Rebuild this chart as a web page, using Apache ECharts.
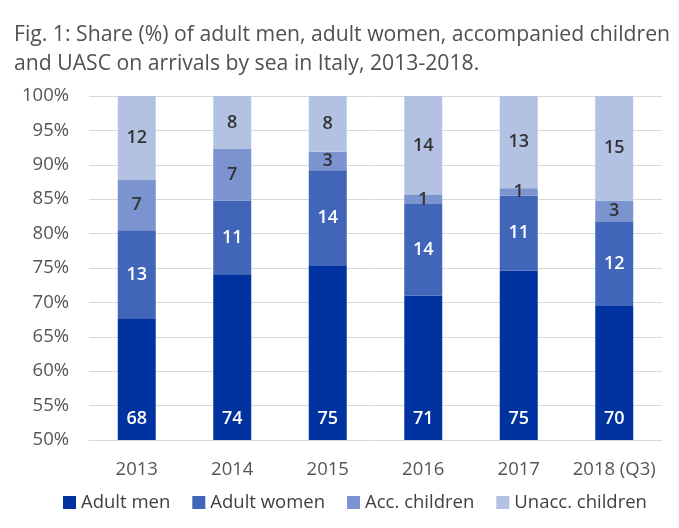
<!DOCTYPE html>
<html>
<head>
<meta charset="utf-8">
<script src="https://cdn.jsdelivr.net/npm/echarts@6/dist/echarts.min.js"></script>
<style>
  html, body { margin: 0; padding: 0; background: #fff; }
  #chart { width: 679px; height: 528px; }
</style>
</head>
<body>
<div id="chart"></div>
<script>
// data
var years = ['2013', '2014', '2015', '2016', '2017', '2018 (Q3)'];
var seriesNames = ['Adult men', 'Adult women', 'Acc. children', 'Unacc. children'];
// segment heights (share %)
var adultMen = [67.6, 74.1, 75.4, 71.0, 74.6, 69.6];
var adultWomen = [12.9, 10.7, 13.8, 13.3, 10.9, 12.1];
var accChildren = [7.3, 7.5, 2.7, 1.3, 1.1, 3.1];
var unaccChildren = [12.2, 7.7, 8.1, 14.4, 13.4, 15.2];
// printed labels
var menLabels = [68, 74, 75, 71, 75, 70];
var womenLabels = [13, 11, 14, 14, 11, 12];
var accLabels = [7, 7, 3, 1, 1, 3];
var unaccLabels = [12, 8, 8, 14, 13, 15];

var colors = ['#00339f', '#4165b9', '#7b94cf', '#b3c2e3'];
var FONT = '"Open Sans", sans-serif';

function makeSeries(name, values, labels, color, textColor, pos, dist) {
    return {
        name: name,
        type: 'bar',
        stack: 'total',
        barWidth: 38,
        data: values,
        itemStyle: { color: color },
        label: {
            show: true,
            position: pos,
            distance: dist,
            color: textColor,
            fontFamily: FONT,
            fontSize: 18,
            fontWeight: 600,
            formatter: function (p) { return labels[p.dataIndex]; }
        }
    };
}

var chart = echarts.init(document.getElementById('chart'));
chart.setOption({
    animation: false,
    backgroundColor: '#fff',
    title: {
        text: 'Fig. 1: Share (%) of adult men, adult women, accompanied children\nand UASC on arrivals by sea in Italy, 2013-2018.',
        left: 9,
        top: 15,
        textStyle: {
            fontFamily: FONT,
            fontSize: 21.2,
            fontWeight: 'normal',
            color: '#505050',
            lineHeight: 29
        }
    },
    grid: { left: 89, right: 17, top: 96, bottom: 88 },
    legend: {
        bottom: 11,
        left: 58,
        icon: 'rect',
        itemWidth: 13,
        itemHeight: 13,
        itemGap: 22,
        data: seriesNames,
        textStyle: { fontFamily: FONT, fontSize: 18.5, color: '#404040' }
    },
    xAxis: {
        type: 'category',
        data: years,
        axisTick: { show: false },
        axisLine: { lineStyle: { color: '#d9d9d9' } },
        axisLabel: { interval: 0, fontFamily: FONT, fontSize: 18.5, color: '#555', margin: 20 }
    },
    yAxis: {
        type: 'value',
        min: 50,
        max: 100,
        interval: 5,
        axisLine: { show: false },
        axisTick: { show: false },
        splitLine: { lineStyle: { color: '#d9d9d9' } },
        axisLabel: {
            fontFamily: FONT, fontSize: 18.5, color: '#555', margin: 20,
            formatter: '{value}%'
        }
    },
    series: [
        makeSeries(seriesNames[0], adultMen, menLabels, colors[0], '#fff', 'insideBottom', 12),
        makeSeries(seriesNames[1], adultWomen, womenLabels, colors[1], '#fff', 'inside'),
        makeSeries(seriesNames[2], accChildren, accLabels, colors[2], '#333', 'inside'),
        makeSeries(seriesNames[3], unaccChildren, unaccLabels, colors[3], '#333', 'inside')
    ]
});
</script>
</body>
</html>
